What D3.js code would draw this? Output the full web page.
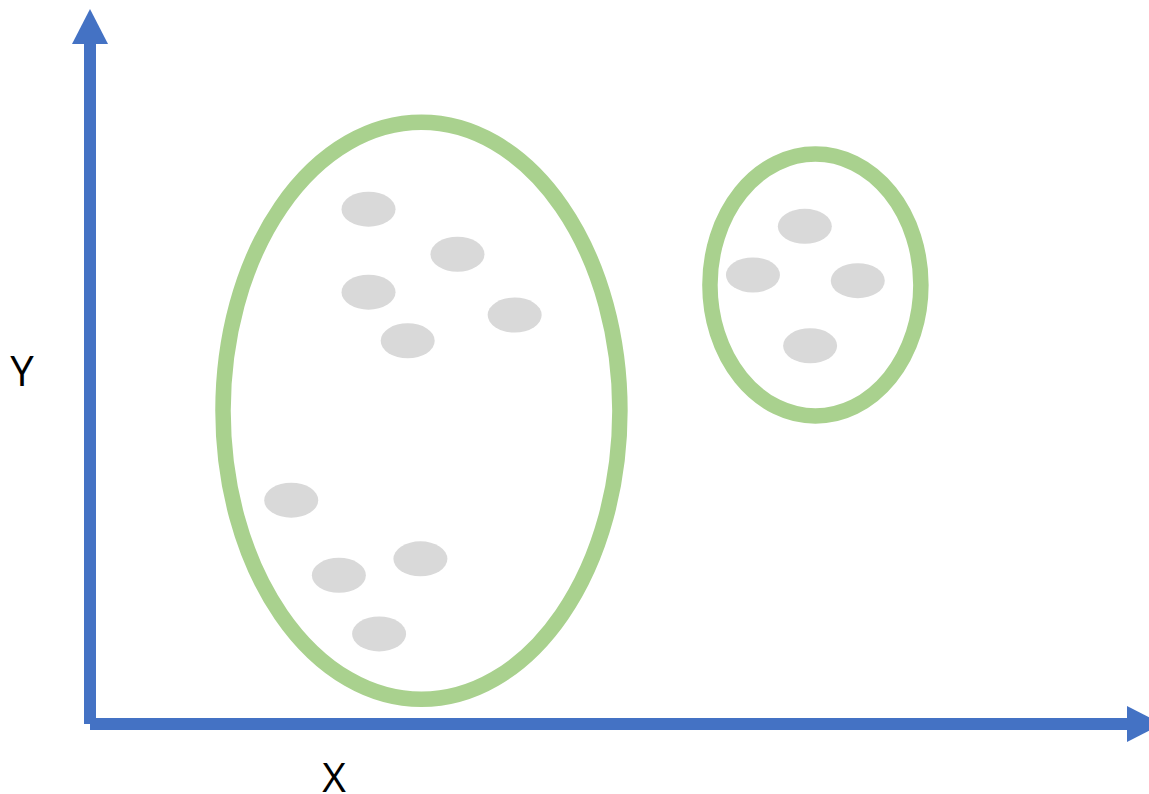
<!DOCTYPE html>
<html>
<head>
<meta charset="utf-8">
<script src="https://cdn.jsdelivr.net/npm/d3@7"></script>
<style>
  html, body { margin: 0; padding: 0; background: #fff; }
  svg { display: block; }
</style>
</head>
<body>
<svg id="chart" width="1149" height="794"></svg>
<script>
// Sample observations (x, y in axis units 0–10)
const pointX = [2.63, 3.47, 2.63, 3.00, 4.01, 1.90, 2.35, 3.12, 2.73, 6.75, 6.26, 7.25, 6.80];
const pointY = [7.20, 6.57, 6.04, 5.36, 5.72, 3.13, 2.08, 2.31, 1.26, 6.96, 6.28, 6.20, 5.29];

// Cluster outlines: centre and radii, in the same units
const clusterCx = [3.13, 6.85];
const clusterCy = [4.38, 6.14];
const clusterRx = [1.874, 0.996];
const clusterRy = [4.035, 1.832];

const axisLabels = ["X", "Y"];

const W = 1149, H = 794;
const svg = d3.select("#chart");

const x = d3.scaleLinear().domain([0, 10]).range([90, 1149]);
const y = d3.scaleLinear().domain([0, 10]).range([724, 9]);

const blue = "#4472C4", green = "#A9D18E", grey = "#D9D9D9";
const axisW = 12, headW = 36, headL = 35;

// cluster outlines
const clusters = clusterCx.map((cx, i) => ({cx, cy: clusterCy[i], rx: clusterRx[i], ry: clusterRy[i]}));
svg.append("g").selectAll("ellipse").data(clusters).join("ellipse")
  .attr("cx", d => x(d.cx))
  .attr("cy", d => y(d.cy))
  .attr("rx", d => x(d.cx + d.rx) - x(d.cx))
  .attr("ry", d => y(d.cy) - y(d.cy + d.ry))
  .attr("fill", "none")
  .attr("stroke", green)
  .attr("stroke-width", 15.5);

// observations
const pts = pointX.map((v, i) => ({x: v, y: pointY[i]}));
svg.append("g").selectAll("ellipse").data(pts).join("ellipse")
  .attr("cx", d => x(d.x))
  .attr("cy", d => y(d.y))
  .attr("rx", 27)
  .attr("ry", 17.5)
  .attr("fill", grey);

// axes with arrowheads
const x0 = x(0), y0 = y(0);
const yTip = y(10);
const xBase = x(10) - 22, xTip = xBase + headL;
const axes = svg.append("g");
axes.append("line")
  .attr("x1", x0).attr("x2", x0)
  .attr("y1", y0).attr("y2", yTip + headL)
  .attr("stroke", blue).attr("stroke-width", axisW);
axes.append("path")
  .attr("d", `M${x0 - headW / 2},${yTip + headL}L${x0},${yTip}L${x0 + headW / 2},${yTip + headL}Z`)
  .attr("fill", blue);
axes.append("line")
  .attr("x1", x0).attr("x2", xBase)
  .attr("y1", y0).attr("y2", y0)
  .attr("stroke", blue).attr("stroke-width", axisW);
axes.append("path")
  .attr("d", `M${xBase},${y0 - headW / 2}L${xTip},${y0}L${xBase},${y0 + headW / 2}Z`)
  .attr("fill", blue);

// axis titles
svg.append("text")
  .attr("x", 334).attr("y", 792)
  .attr("text-anchor", "middle")
  .attr("font-family", "'Open Sans', sans-serif")
  .attr("font-size", 41)
  .attr("fill", "#000")
  .text(axisLabels[0]);
svg.append("text")
  .attr("x", 22).attr("y", 386)
  .attr("text-anchor", "middle")
  .attr("font-family", "'Open Sans', sans-serif")
  .attr("font-size", 42)
  .attr("fill", "#000")
  .text(axisLabels[1]);
</script>
</body>
</html>
